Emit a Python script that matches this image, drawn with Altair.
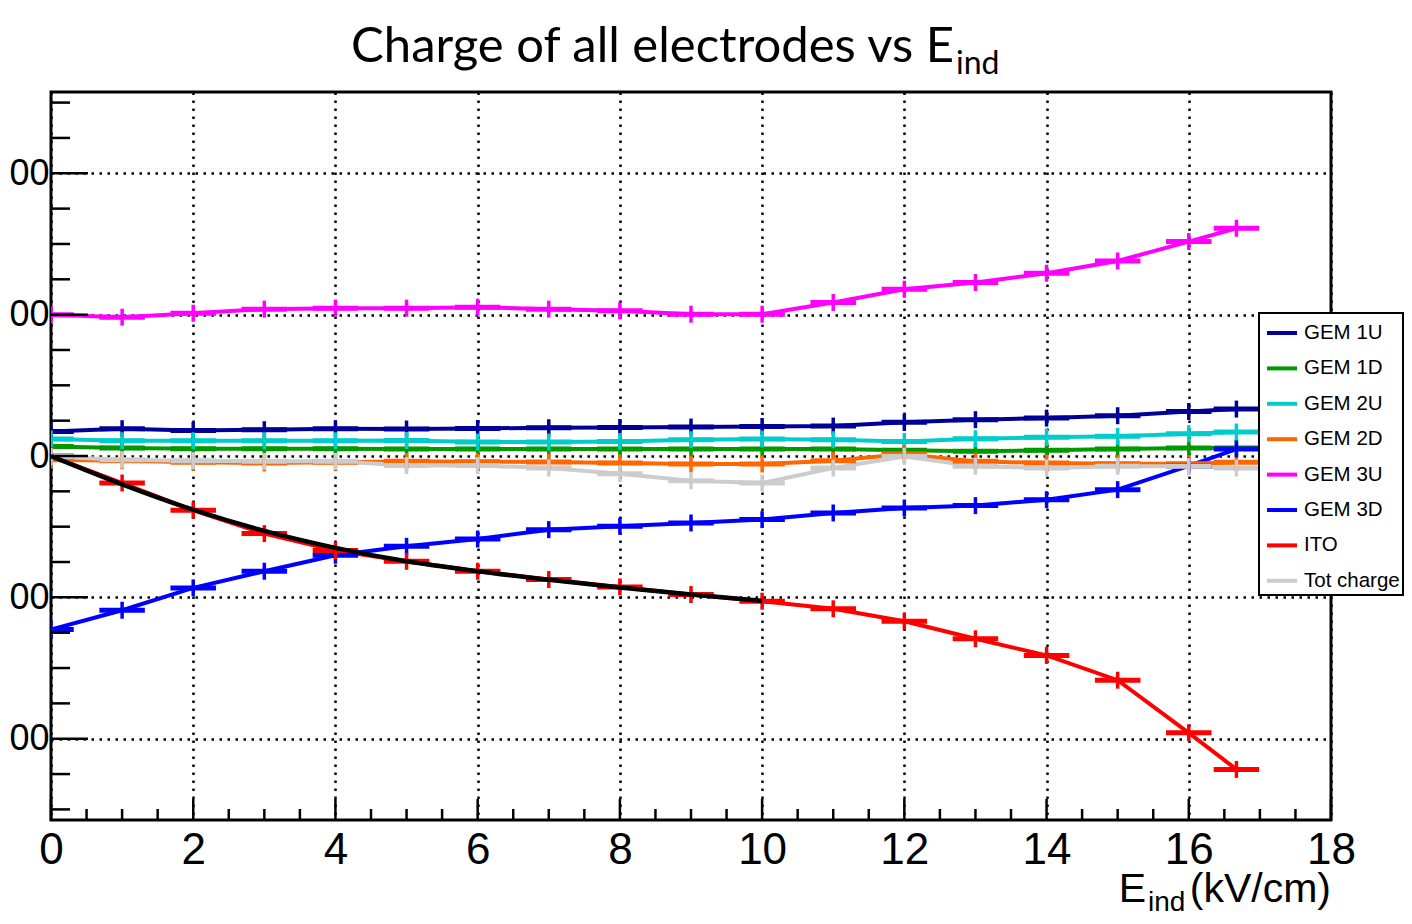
import altair as alt
import pandas as pd

# ---------------- data ----------------
X_VALUES = [0, 1, 2, 3, 4, 5, 6, 7, 8, 9, 10, 11, 12, 13, 14, 15, 16, 16.67]

SERIES = ["GEM 1U", "GEM 1D", "GEM 2U", "GEM 2D", "GEM 3U", "GEM 3D", "ITO", "Tot charge"]
COLORS = ["#000099", "#009900", "#00cccc", "#ff6600", "#ff00ff", "#0000ff", "#ff0000", "#cccccc"]

GEM_1U = [17.4, 19.3, 18.1, 18.6, 19.3, 19.1, 19.5, 20.0, 20.2, 20.5, 20.9, 21.2, 23.8, 25.7, 26.8, 28.5, 31.5, 33.2]
GEM_1D = [6.8, 5.6, 5.2, 5.2, 5.2, 4.9, 4.9, 4.9, 4.9, 4.9, 4.9, 4.9, 4.0, 3.3, 4.0, 5.0, 5.6, 5.6]
GEM_2U = [12.0, 10.8, 10.8, 10.8, 10.8, 11.0, 9.9, 9.9, 10.3, 11.5, 12.0, 11.5, 10.3, 12.2, 13.2, 13.9, 15.8, 17.0]
GEM_2D = [-2.6, -3.3, -4.5, -5.0, -4.5, -3.8, -4.0, -4.3, -5.0, -5.7, -5.7, -3.3, 1.4, -3.8, -5.0, -5.5, -5.5, -4.5]
GEM_3U = [100.0, 98.2, 101.0, 103.9, 104.6, 104.6, 105.3, 103.9, 102.7, 100.3, 100.3, 108.6, 118.0, 122.7, 129.3, 138.0, 151.7, 161.1]
GEM_3D = [-122.8, -109.1, -93.3, -81.5, -70.2, -63.9, -58.7, -52.1, -49.7, -47.4, -45.0, -40.3, -36.8, -35.1, -30.9, -23.8, -7.0, 4.9]
ITO = [0.0, -19.1, -38.4, -54.9, -66.9, -74.5, -81.5, -87.4, -92.6, -98.0, -102.7, -108.1, -116.9, -129.3, -141.1, -158.6, -195.8, -221.7]
TOT_CHARGE = [-0.3, -2.6, -3.3, -3.8, -3.8, -6.7, -6.7, -8.5, -12.5, -17.5, -19.1, -8.5, -0.3, -7.3, -8.5, -7.3, -7.3, -8.5]

SERIES_VALUES = [GEM_1U, GEM_1D, GEM_2U, GEM_2D, GEM_3U, GEM_3D, ITO, TOT_CHARGE]

X_ERR = 0.32
Y_ERR = 6.0

# fit of the ITO charge (black curve)
FIT_X = [0, 1, 2, 3, 4, 5, 6, 7, 8, 9, 10]
FIT_Y = [0.0, -20.0, -38.0, -53.0, -65.0, -74.5, -81.5, -87.5, -93.0, -98.0, -102.5]

X_TICKS_MAJOR = [0, 2, 4, 6, 8, 10, 12, 14, 16, 18]
Y_TICKS_MAJOR = [-200, -100, 0, 100, 200]
Y_TICKS_MINOR = [-250, -225, -175, -150, -125, -75, -50, -25, 25, 50, 75, 125, 150, 175, 225, 250]
X_TICKS_MINOR = [v / 2 for v in range(0, 37) if v % 4 != 0]

TITLE_MAIN = "Charge of all electrodes vs E"
TITLE_SUB = "ind"
XTITLE_MAIN = "E"
XTITLE_SUB = "ind"
XTITLE_UNIT = "(kV/cm)"

# ---------------- tables ----------------
rows = []
for name, vals in zip(SERIES, SERIES_VALUES):
    for i, (xv, yv) in enumerate(zip(X_VALUES, vals)):
        rows.append(dict(series=name, x=xv, y=yv, order=i,
                         xlo=xv - X_ERR, xhi=xv + X_ERR,
                         ylo=yv - Y_ERR, yhi=yv + Y_ERR))
df = pd.DataFrame(rows)
fit_df = pd.DataFrame({"x": FIT_X, "y": FIT_Y})

W, H = 1280, 728
AX_FONT = "Liberation Sans, Arial"
LEG_FONT = "Liberation Sans, Arial"
TITLE_FONT = "Lato, Open Sans"

xscale = alt.Scale(domain=[0, 18], nice=False, zero=False)
yscale = alt.Scale(domain=[-257.5, 257.5], nice=False, zero=False)

xaxis = alt.Axis(values=X_TICKS_MAJOR, title=None, grid=True, gridColor="black",
                 gridDash=[2.5, 5.5], gridWidth=2.5, ticks=False, tickSize=0, domain=False,
                 labelFont=AX_FONT, labelFontSize=44, labelPadding=8, labelColor="black",
                 labelFlush=False, labelOverlap=False, format="d")
yaxis = alt.Axis(values=Y_TICKS_MAJOR, title=None, grid=True, gridColor="black",
                 gridDash=[2.5, 5.5], gridWidth=2.5, ticks=False, tickSize=0, domain=False,
                 labelFont=AX_FONT, labelFontSize=36, labelPadding=2, labelColor="black",
                 labelFlush=False, labelOverlap=False, labelBaseline="middle",
                 labelExpr="slice(toString(abs(datum.value)), -2)")

color = alt.Color(
    "series:N",
    scale=alt.Scale(domain=SERIES, range=COLORS),
    legend=alt.Legend(title=None, orient="none", legendX=1208, legendY=221,
                      symbolType="stroke", symbolSize=900, symbolStrokeWidth=4,
                      symbolOffset=3,
                      labelFont=LEG_FONT, labelFontSize=20.5, labelColor="black",
                      labelLimit=400, padding=3, rowPadding=7.4, labelOffset=5,
                      fillColor="white", strokeColor="black"),
)

X = lambda f: alt.X(f, scale=xscale, axis=xaxis)
Y = lambda f: alt.Y(f, scale=yscale, axis=yaxis)

lines = alt.Chart(df).mark_line(strokeWidth=4, clip=True).encode(
    x=X("x:Q"), y=Y("y:Q"), color=color, order="order:Q",
)

hbars = alt.Chart(df).mark_rule(strokeWidth=5, clip=True).encode(
    x=X("xlo:Q"), x2="xhi:Q", y=Y("y:Q"), color=color,
)

vbars = alt.Chart(df).mark_rule(strokeWidth=3.5, clip=True).encode(
    x=X("x:Q"), y=Y("ylo:Q"), y2="yhi:Q", color=color,
)

fit = alt.Chart(fit_df).mark_line(color="black", strokeWidth=4.5, interpolate="monotone", clip=True).encode(
    x=X("x:Q"), y=Y("y:Q"),
)

ymaj = alt.Chart(pd.DataFrame({"v": Y_TICKS_MAJOR})).mark_rule(color="black", strokeWidth=2.5).encode(
    y=Y("v:Q"), x=alt.value(0), x2=alt.value(37))
ymin = alt.Chart(pd.DataFrame({"v": Y_TICKS_MINOR})).mark_rule(color="black", strokeWidth=2.5).encode(
    y=Y("v:Q"), x=alt.value(0), x2=alt.value(19))
xmaj = alt.Chart(pd.DataFrame({"v": X_TICKS_MAJOR})).mark_rule(color="black", strokeWidth=2.5).encode(
    x=X("v:Q"), y=alt.value(H), y2=alt.value(H - 21))
xmin = alt.Chart(pd.DataFrame({"v": X_TICKS_MINOR})).mark_rule(color="black", strokeWidth=2.5).encode(
    x=X("v:Q"), y=alt.value(H), y2=alt.value(H - 11))


def label(text, x, y, size, font, align):
    return alt.Chart(pd.DataFrame({"t": [text]})).mark_text(
        font=font, fontSize=size, align=align, baseline="alphabetic", color="black"
    ).encode(text="t:N", x=alt.value(x), y=alt.value(y))


texts = [
    label(TITLE_MAIN, 903, -30, 49, TITLE_FONT, "right"),
    label(TITLE_SUB, 905, -18, 32, TITLE_FONT, "left"),
    label(XTITLE_MAIN, 1095, 810, 41, AX_FONT, "right"),
    label(XTITLE_SUB, 1097, 819, 28, AX_FONT, "left"),
    label(XTITLE_UNIT, 1280, 810, 41, AX_FONT, "right"),
]

chart = alt.layer(
    lines, hbars, vbars, fit, ymaj, ymin, xmaj, xmin, *texts
).properties(
    width=W, height=H,
    padding={"left": 43, "top": 84, "right": 73, "bottom": 100},
    autosize=alt.AutoSizeParams(type="none"),
    background="white",
).configure_view(
    stroke="black", strokeWidth=3
).configure_legend(
    strokeWidth=2
)

chart.save("out.html", embed_options={"renderer": "svg", "actions": False})
